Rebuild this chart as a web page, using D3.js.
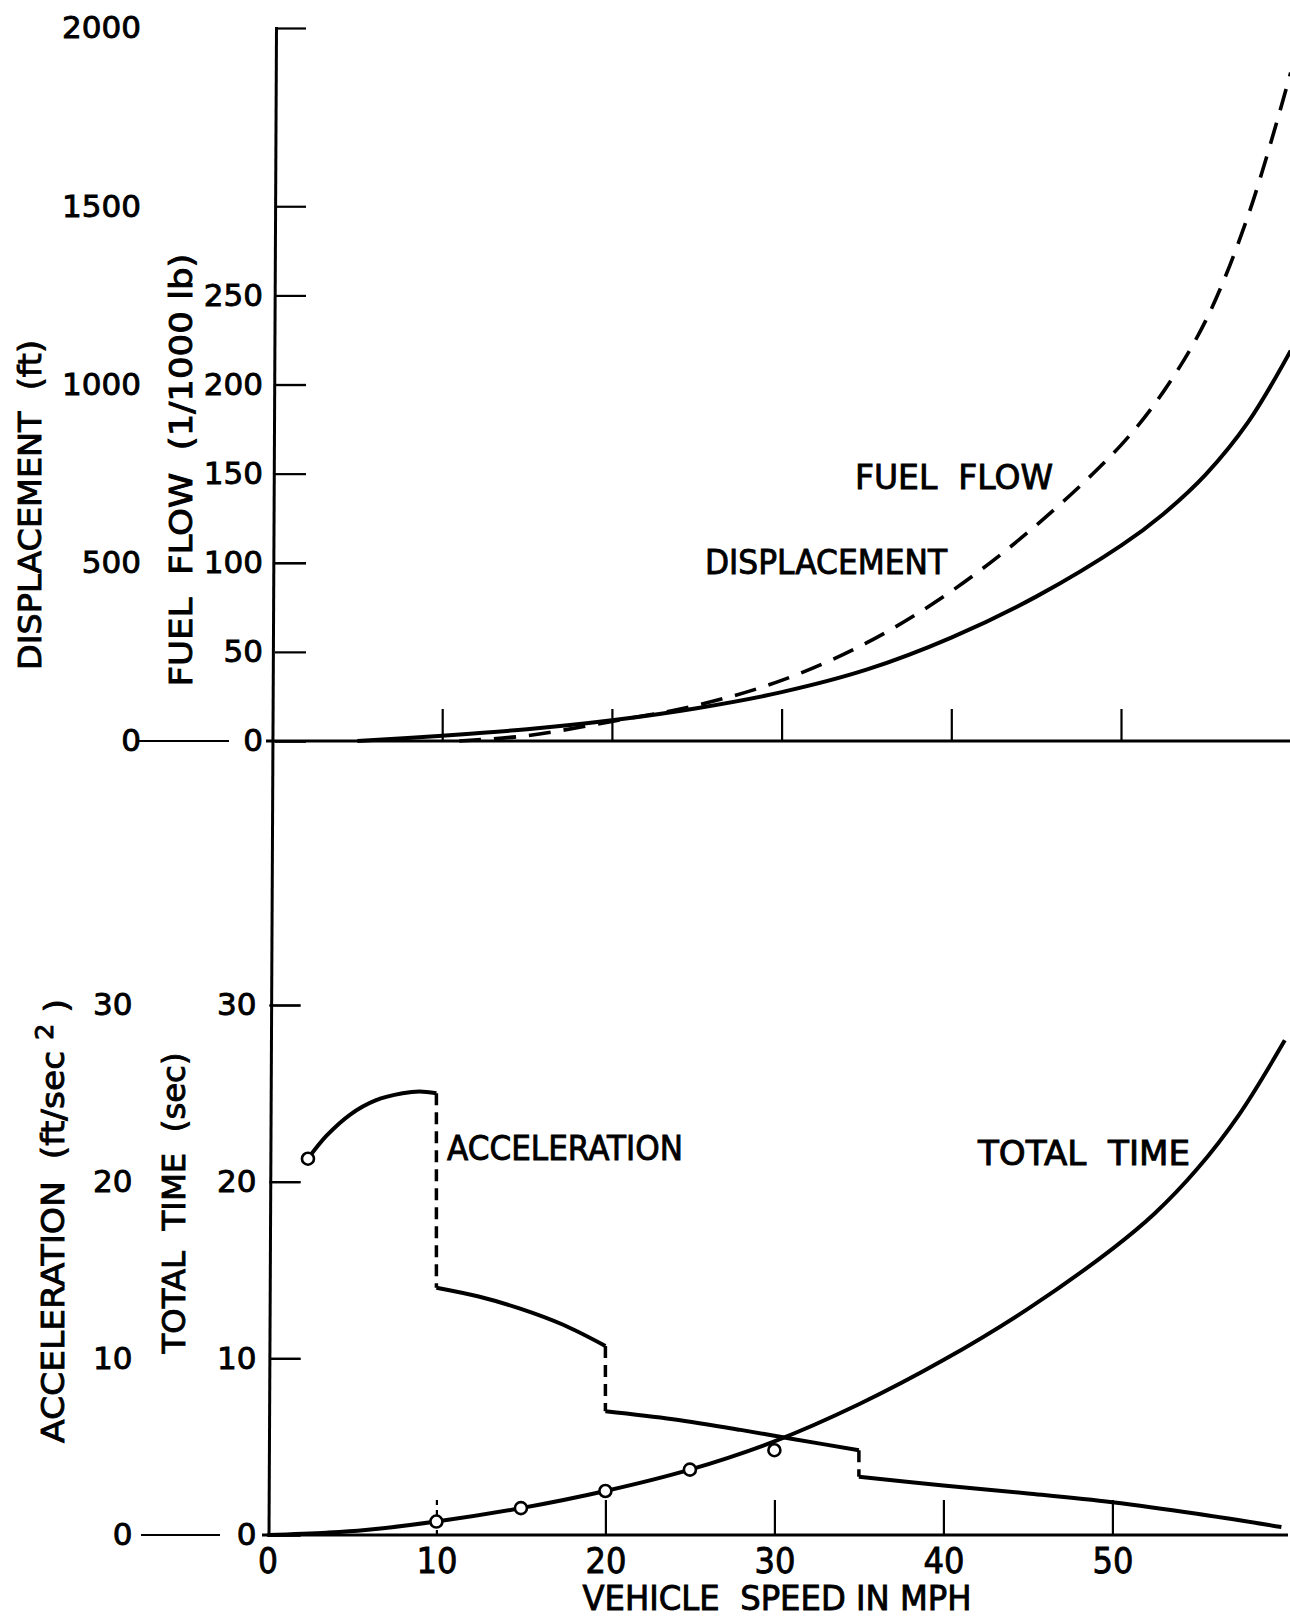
<!DOCTYPE html>
<html>
<head>
<meta charset="utf-8">
<script src="https://cdn.jsdelivr.net/npm/d3@7"></script>
<style>
  body { margin: 0; background: #fff; }
  svg { display: block; }
  text { fill: #000; stroke: #000; stroke-width: 0.9px; }
</style>
</head>
<body>
<svg id="chart" width="1290" height="1618"></svg>
<script>
// speed (mph) vs value
var speedTicks = [0, 10, 20, 30, 40, 50];
var dispTicks = [0, 500, 1000, 1500, 2000];
var fuelTicks = [0, 50, 100, 150, 200, 250];
var lowerTicks = [0, 10, 20, 30];

var displacement = [[5, 0], [10, 15], [15, 33], [20, 58], [25, 92], [30, 137], [35, 200],
  [40, 290], [45, 405], [50, 548], [52.5, 637], [55, 748], [57.5, 895], [60, 1095]];
var fuelFlow = [[11, 0], [15, 3], [20, 11], [25, 20], [30, 34], [35, 55], [40, 84],
  [45, 121], [50, 166], [52.5, 196], [55, 236], [57.5, 295], [60, 375]];

var accelSegments = [
  [[2.4, 21.3], [3.5, 22.6], [4.9, 23.8], [6.4, 24.6], [8.0, 25.0], [9.0, 25.1], [10, 25.0]],
  [[10, 14.0], [12.5, 13.5], [15, 12.8], [17.5, 11.9], [20, 10.7]],
  [[20, 7.0], [24, 6.55], [28, 5.95], [31, 5.45], [35, 4.8]],
  [[35, 3.3], [40, 2.8], [45, 2.35], [50, 1.85], [55, 1.2], [60, 0.45]]
];
// gear shifts: speed, value before, value after
var accelJumps = [[10, 25.0, 14.0], [20, 10.7, 7.0], [35, 4.8, 3.3]];
var accelStart = [[2.4, 21.3]];

var totalTime = [[0, 0], [3.5, 0.13], [5.8, 0.28], [10, 0.76], [15, 1.52], [20, 2.49],
  [25, 3.7], [30, 5.3], [35, 7.4], [40, 9.9], [45, 12.8], [50, 16.2], [52.5, 18.2],
  [55, 20.7], [57.5, 23.8], [60.2, 28.0]];
var timePoints = [[10, 0.76], [15, 1.52], [20, 2.49], [25, 3.7], [30, 4.8]];

var FONT = "'DejaVu Sans', 'Noto Sans', sans-serif";

var svg = d3.select("#chart");
svg.append("rect").attr("width", 1290).attr("height", 1618).attr("fill", "#fff");

// scales
var xTop = d3.scaleLinear().domain([0, 60]).range([272.5, 1290.7]);
var xBot = d3.scaleLinear().domain([0, 60]).range([267.4, 1281.4]);
var yDisp = d3.scaleLinear().domain([0, 2000]).range([741, 28]);
var yFuel = d3.scaleLinear().domain([0, 250]).range([741, 295.4]);
var yLow = d3.scaleLinear().domain([0, 30]).range([1535, 1005]);

var axisXTop = 275, axisXBot = 269.5;
var fmt = d3.format("d");

function styleAxis(g, size) {
  g.select(".domain").remove();
  g.selectAll("line").attr("stroke", "#000").attr("stroke-width", 2.2);
  g.selectAll("text").attr("font-family", FONT).attr("font-size", size).attr("fill", "#000");
}

// main vertical axis line (slightly slanted like the scan)
svg.append("line")
  .attr("x1", 276.5).attr("y1", 27)
  .attr("x2", 269).attr("y2", 1537)
  .attr("stroke", "#000").attr("stroke-width", 3);

// ---- upper panel ----
svg.append("g")
  .attr("transform", "translate(" + axisXTop + ",0)")
  .call(d3.axisLeft(yDisp).tickValues(dispTicks).tickFormat(fmt).tickSizeInner(-31).tickSizeOuter(0).tickPadding(134))
  .call(styleAxis, 31);

svg.append("g")
  .attr("transform", "translate(" + axisXTop + ",0)")
  .call(d3.axisLeft(yFuel).tickValues(fuelTicks).tickFormat(fmt).tickSizeInner(-31).tickSizeOuter(0).tickPadding(12))
  .call(styleAxis, 31);

// speed ticks pointing up from the baseline
svg.append("g")
  .attr("transform", "translate(0," + yDisp(0) + ")")
  .call(d3.axisBottom(xTop).tickValues(speedTicks.slice(1)).tickSizeInner(-32).tickSizeOuter(0).tickFormat(""))
  .call(styleAxis, 10);

// baseline and the 0 —— 0 connector
svg.append("line").attr("x1", 266).attr("x2", 1290).attr("y1", yDisp(0)).attr("y2", yDisp(0))
  .attr("stroke", "#000").attr("stroke-width", 3);
svg.append("line").attr("x1", 138).attr("x2", 229).attr("y1", yDisp(0)).attr("y2", yDisp(0))
  .attr("stroke", "#000").attr("stroke-width", 2.2);

var lineDisp = d3.line()
  .x(function (d) { return xTop(d[0]); })
  .y(function (d) { return yDisp(d[1]); })
  .curve(d3.curveCatmullRom.alpha(0.5));
var lineFuel = d3.line()
  .x(function (d) { return xTop(d[0]); })
  .y(function (d) { return yFuel(d[1]); })
  .curve(d3.curveCatmullRom.alpha(0.5));

svg.append("path").datum(displacement)
  .attr("d", lineDisp)
  .attr("fill", "none").attr("stroke", "#000").attr("stroke-width", 4);
svg.append("path").datum(fuelFlow)
  .attr("d", lineFuel)
  .attr("fill", "none").attr("stroke", "#000").attr("stroke-width", 3.6)
  .attr("stroke-dasharray", "22,13");

// ---- lower panel ----
svg.append("g")
  .attr("transform", "translate(" + axisXBot + ",0)")
  .call(d3.axisLeft(yLow).tickValues(lowerTicks).tickFormat(fmt).tickSizeInner(-31).tickSizeOuter(0).tickPadding(137))
  .call(styleAxis, 31);
svg.append("g")
  .attr("transform", "translate(" + axisXBot + ",0)")
  .call(d3.axisLeft(yLow).tickValues(lowerTicks).tickFormat(fmt).tickSizeInner(-31).tickSizeOuter(0).tickPadding(13))
  .call(styleAxis, 31);

var xAxisBot = svg.append("g")
  .attr("transform", "translate(0," + yLow(0) + ")")
  .call(d3.axisBottom(xBot).tickValues(speedTicks).tickFormat(fmt).tickSizeInner(-35).tickSizeOuter(0).tickPadding(13))
  .call(styleAxis, 35);
xAxisBot.selectAll("text")
  .attr("textLength", function (d) { return d < 10 ? 20 : 41; })
  .attr("lengthAdjust", "spacingAndGlyphs");
// the 10 mph tick is dashed in the original
xAxisBot.selectAll(".tick line")
  .filter(function (d) { return d === 10; })
  .attr("stroke-dasharray", "5,5");
xAxisBot.selectAll(".tick line")
  .filter(function (d) { return d === 0; })
  .remove();

svg.append("line").attr("x1", 262).attr("x2", 1288).attr("y1", yLow(0)).attr("y2", yLow(0))
  .attr("stroke", "#000").attr("stroke-width", 3);
svg.append("line").attr("x1", 141).attr("x2", 220).attr("y1", yLow(0)).attr("y2", yLow(0))
  .attr("stroke", "#000").attr("stroke-width", 2.2);

var lineLow = d3.line()
  .x(function (d) { return xBot(d[0]); })
  .y(function (d) { return yLow(d[1]); })
  .curve(d3.curveCatmullRom.alpha(0.5));

// acceleration: solid pieces joined by dashed drops
svg.append("g").selectAll("path")
  .data(accelSegments)
  .enter()
  .append("path")
  .attr("d", lineLow)
  .attr("fill", "none").attr("stroke", "#000").attr("stroke-width", 4);

svg.append("g").selectAll("line")
  .data(accelJumps)
  .enter()
  .append("line")
  .attr("x1", function (d) { return xBot(d[0]); })
  .attr("x2", function (d) { return xBot(d[0]); })
  .attr("y1", function (d) { return yLow(d[1]); })
  .attr("y2", function (d) { return yLow(d[2]); })
  .attr("stroke", "#000").attr("stroke-width", 3.5)
  .attr("stroke-dasharray", "12,7");

// total time
svg.append("path").datum(totalTime)
  .attr("d", lineLow)
  .attr("fill", "none").attr("stroke", "#000").attr("stroke-width", 4);

svg.append("g").selectAll("circle")
  .data(timePoints.concat(accelStart))
  .enter()
  .append("circle")
  .attr("cx", function (d) { return xBot(d[0]); })
  .attr("cy", function (d) { return yLow(d[1]); })
  .attr("r", 6)
  .attr("fill", "#fff").attr("stroke", "#000").attr("stroke-width", 2.6);

// ---- text ----
// y is the baseline; caps are ~0.73em tall
function label(txt, x, y, len, size) {
  return svg.append("text")
    .attr("x", x).attr("y", y)
    .attr("font-family", FONT).attr("font-size", size || 33)
    .attr("textLength", len).attr("lengthAdjust", "spacingAndGlyphs")
    .style("white-space", "pre")
    .text(txt);
}

label("FUEL  FLOW", 855, 489, 198);
label("DISPLACEMENT", 705, 574, 242);
label("ACCELERATION", 447, 1160, 236);
label("TOTAL  TIME", 978, 1165, 212);

svg.append("text")
  .attr("x", 777).attr("y", 1610)
  .attr("text-anchor", "middle")
  .attr("font-family", FONT).attr("font-size", 33)
  .attr("textLength", 389).attr("lengthAdjust", "spacingAndGlyphs")
  .style("white-space", "pre")
  .text("VEHICLE  SPEED IN MPH");

// rotated axis titles
function vTitle(txt, cx, cy, len) {
  return svg.append("text")
    .attr("transform", "translate(" + cx + "," + cy + ") rotate(-90)")
    .attr("text-anchor", "middle").attr("dy", "0.36em")
    .attr("font-family", FONT).attr("font-size", 32)
    .attr("textLength", len).attr("lengthAdjust", "spacingAndGlyphs")
    .style("white-space", "pre")
    .text(txt);
}

vTitle("DISPLACEMENT  (ft)", 29, 505, 330);
vTitle("FUEL  FLOW  (1/1000 lb)", 180, 470, 433);
vTitle("TOTAL  TIME  (sec)", 173, 1203, 301);

var acc = svg.append("text")
  .attr("transform", "translate(52,1221) rotate(-90)")
  .attr("text-anchor", "middle").attr("dy", "0.36em")
  .attr("font-family", FONT).attr("font-size", 32)
  .attr("textLength", 444).attr("lengthAdjust", "spacingAndGlyphs")
  .style("white-space", "pre");
acc.append("tspan").text("ACCELERATION  (ft/sec ");
acc.append("tspan").attr("dy", "-0.45em").attr("font-size", 24).text("2");
acc.append("tspan").attr("dy", "0.45em").text(" )");
</script>
</body>
</html>
